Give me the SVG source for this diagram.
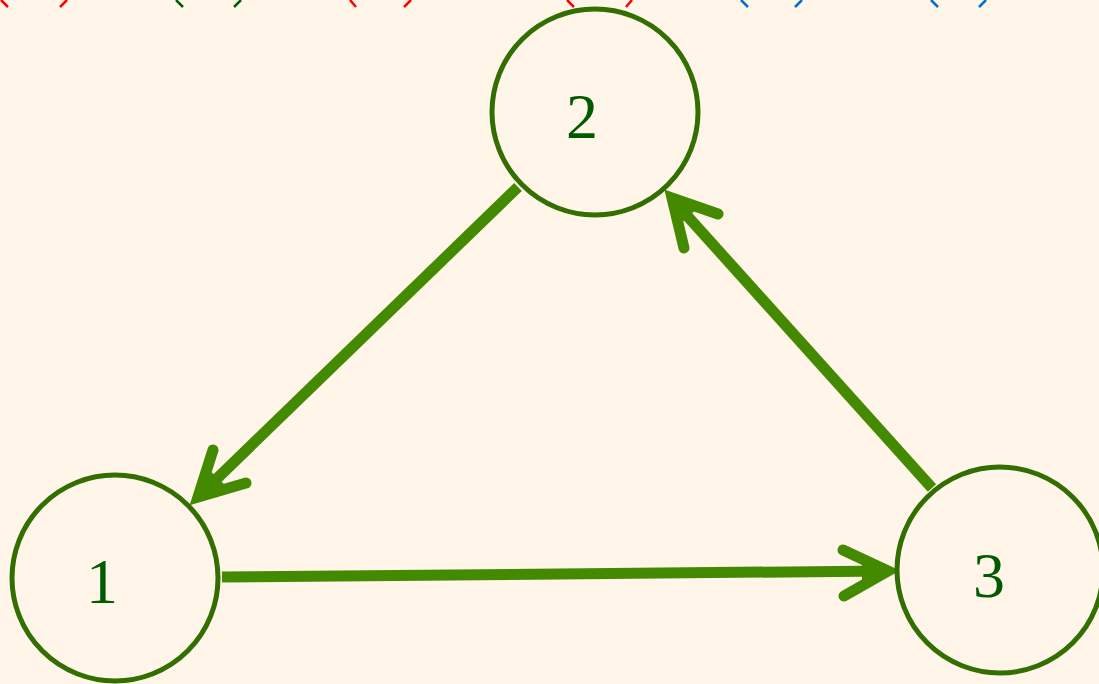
<svg xmlns="http://www.w3.org/2000/svg" width="1099" height="684" viewBox="0 0 1099 684">
<style>
.node{fill:#fff5e9;stroke:#336e00;stroke-width:5}
.lbl{font-family:'Times New Roman','Liberation Serif',Tinos,'DejaVu Serif',serif;font-size:64px;fill:#005a00}
.edge{fill:none;stroke:#448a00;stroke-width:11}
.head{fill:none;stroke:#448a00;stroke-width:11;stroke-linecap:round;stroke-linejoin:miter;stroke-miterlimit:10}
.tip{fill:#448a00}
.tick{stroke-width:2.5;fill:none}
</style>
<rect width="1099" height="684" fill="#fff5e9"/>
<g id="top-marks">
<path class="tick" stroke="#ff0000" d="M1,0 L8,7 M67,0 L60,7"/>
<path class="tick" stroke="#006000" d="M176,0 L183,7 M241,0 L234,7"/>
<path class="tick" stroke="#ff0000" d="M350,0 L356,7 M411,0 L404,7"/>
<path class="tick" stroke="#ff0000" d="M567,0 L574,7 M632,0 L626,7"/>
<path class="tick" stroke="#0070cc" d="M741,0 L748,7 M802,0 L795,7"/>
<path class="tick" stroke="#0070cc" d="M931,0 L938,7 M986,0 L979,7"/>
</g>
<g id="connectors">
<path class="edge" d="M518,187 L200,495"/>
<path class="head" d="M213,450 L198,497 L246,483"/>
<path class="tip" d="M193,502 L206,467 L228,488 Z"/>
<path class="edge" d="M222,577 L888,571"/>
<path class="head" d="M843,550 L888,571 L844,596"/>
<path class="tip" d="M895,571 L862,557 L862,586 Z"/>
<path class="edge" d="M932,488 L672,199"/>
<path class="head" d="M684,248 L672,198 L718,214"/>
<path class="tip" d="M667,193 L676,228 L699,207 Z"/>
</g>
<g id="node-2">
<circle class="node" cx="595" cy="112" r="103"/>
<text class="lbl" x="582" y="138" text-anchor="middle">2</text>
</g>
<g id="node-1">
<circle class="node" cx="115" cy="578" r="103"/>
<text class="lbl" x="102" y="603" text-anchor="middle">1</text>
</g>
<g id="node-3">
<circle class="node" cx="1000" cy="570" r="103"/>
<text class="lbl" x="989" y="597" text-anchor="middle">3</text>
</g>
</svg>
